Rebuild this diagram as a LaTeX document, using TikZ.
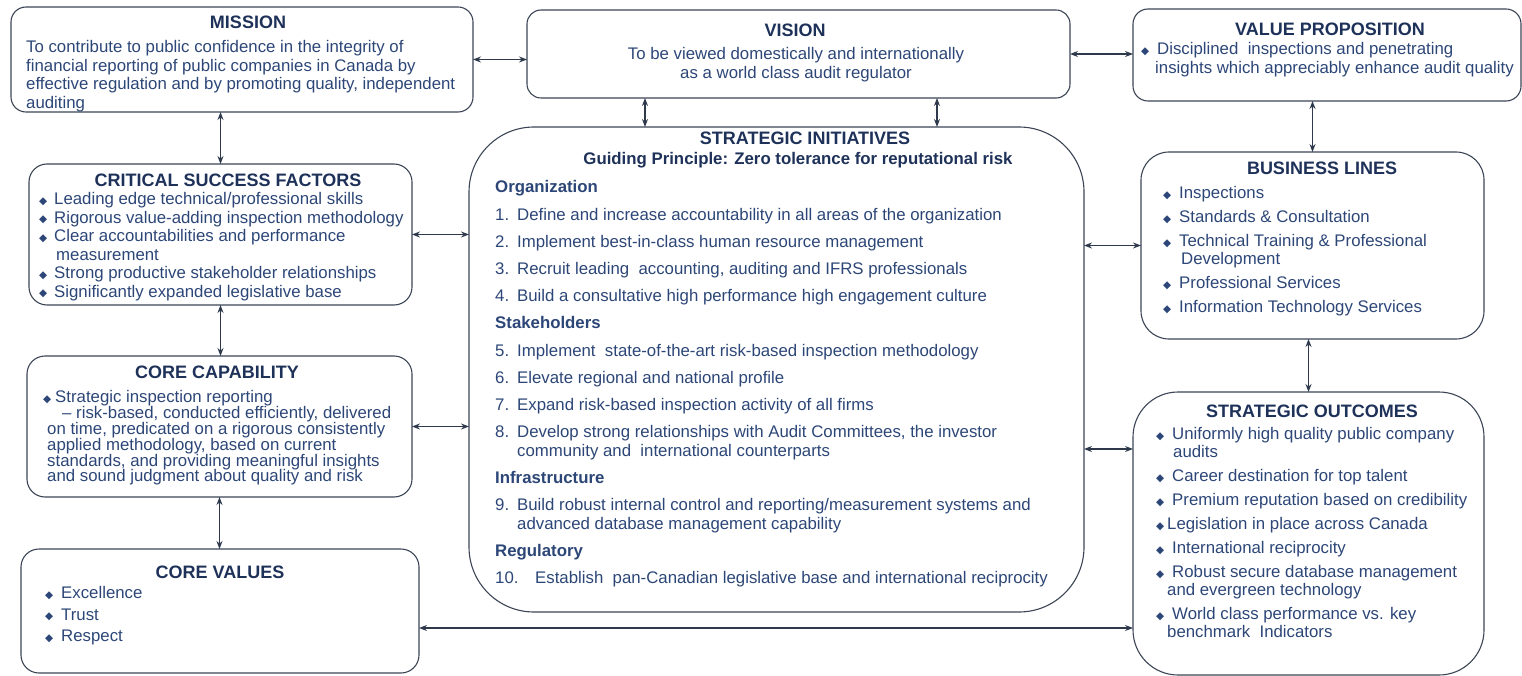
\documentclass[tikz,border=0pt]{standalone}
\usepackage{fontspec}
\setmainfont{Liberation Sans}
\newfontfamily\symfont{DejaVu Sans}
\usetikzlibrary{arrows.meta}

\definecolor{txtcol}{HTML}{2C4677}
\definecolor{headcol}{HTML}{1E3159}
\definecolor{edgecol}{HTML}{3C4556}
\definecolor{linkcol}{HTML}{2E3A4C}

% small diamond bullet and item number boxes
\newcommand{\bul}{\raisebox{0.6pt}{\symfont\fontsize{10.5}{10}\selectfont ◆}}
\newcommand{\bitem}[1][16pt]{\makebox[#1][l]{\bul}}
\newcommand{\num}[2][22pt]{\makebox[#1][l]{#2}}

\begin{document}
\begin{tikzpicture}[x=1pt, y=-1pt,
  panel/.style={draw=edgecol, line width=1.1pt, rounded corners=#1, inner sep=0pt, outer sep=0pt},
  head/.style={font=\fontsize{18}{18}\selectfont\bfseries, text=headcol, anchor=base, inner sep=0pt},
  txt/.style={font=\fontsize{16.8}{18.5}\selectfont, text=txtcol, align=left, anchor=north west, inner sep=0pt},
  link/.style={{Stealth[length=8pt,width=6pt]}-{Stealth[length=8pt,width=6pt]}, line width=1.1pt, draw=linkcol}]

\useasboundingbox (0,0) rectangle (1522,676);

% boxes
\node[panel=15pt, minimum width=462pt, minimum height=105pt] (mission) at (242,59.5) {};
\node[panel=14pt, minimum width=543pt, minimum height=88pt] (vision) at (798.5,54) {};
\node[panel=15pt, minimum width=388pt, minimum height=92pt] (valueprop) at (1327,55) {};
\node[panel=18pt, minimum width=383pt, minimum height=141pt] (csf) at (220.5,234.5) {};
\node[panel=18pt, minimum width=385pt, minimum height=141pt] (corecap) at (219.5,426.5) {};
\node[panel=18pt, minimum width=398pt, minimum height=124pt] (corevals) at (220,611) {};
\node[panel=65pt, minimum width=615pt, minimum height=485pt] (initiatives) at (776.5,369.5) {};
\node[panel=28pt, minimum width=343pt, minimum height=187pt] (buslines) at (1312.5,245.5) {};
\node[panel=45pt, minimum width=351pt, minimum height=283pt] (outcomes) at (1308.5,533.5) {};

% headings
\node[head] (missionhd) at (248,28.4) {MISSION};
\node[head] (visionhd) at (795,36.4) {VISION};
\node[head] (valuehd) at (1330,35.4) {VALUE PROPOSITION};
\node[head] (csfhd) at (228,186.4) {CRITICAL SUCCESS FACTORS};
\node[head] (initshd) at (805,144.4) {STRATEGIC INITIATIVES};
\node[head, font=\fontsize{16.8}{18}\selectfont\bfseries] (guidehd) at (798,164.5)
  {Guiding Principle: Zero tolerance for reputational risk};
\node[head] (bushd) at (1322,174.4) {BUSINESS LINES};
\node[head] (caphd) at (217,378.4) {CORE CAPABILITY};
\node[head] (outhd) at (1312,417.4) {STRATEGIC OUTCOMES};
\node[head] (valshd) at (220,578.5) {CORE VALUES};

% texts
\node[txt] (missiontxt) at (26,40.5) {%
  To contribute to public confidence in the integrity of\\
  financial reporting of public companies in Canada by\\
  effective regulation and by promoting quality, independent\\
  auditing};

\node[txt, align=center, anchor=north, font=\fontsize{16.8}{19}\selectfont] (visiontxt) at (796,47.5) {%
  To be viewed domestically and internationally\\
  as a world class audit regulator};

\node[txt, font=\fontsize{16.8}{19}\selectfont] (valuetxt) at (1141,42.5) {%
  \bitem Disciplined\ \ inspections and penetrating\\
  \hspace*{14pt}insights which appreciably enhance audit quality};

\node[txt] (csftxt) at (39,192.5) {%
  \bitem[15pt]Leading edge technical/professional skills\\
  \bitem[15pt]Rigorous value-adding inspection methodology\\
  \bitem[15pt]Clear accountabilities and performance\\
  \hspace*{17pt}measurement\\
  \bitem[15pt]Strong productive stakeholder relationships\\
  \bitem[15pt]Significantly expanded legislative base};

\node[txt, font=\fontsize{16.8}{15.8}\selectfont] (captxt) at (43,390.5) {%
  \bitem[12pt]Strategic inspection reporting\\
  \hspace*{19pt}-- risk-based, conducted efficiently, delivered\\
  \hspace*{4pt}on time, predicated on a rigorous consistently\\
  \hspace*{4pt}applied methodology, based on current\\
  \hspace*{4pt}standards, and providing meaningful insights\\
  \hspace*{4pt}and sound judgment about quality and risk};

\node[txt, font=\fontsize{16.8}{21.5}\selectfont] (valstxt) at (45,586.5) {%
  \bitem Excellence\\
  \bitem Trust\\
  \bitem Respect};

\node[txt] (initstxt) at (495,180.5) {%
  \textbf{Organization}\\[8.7pt]
  \num{1.}Define and increase accountability in all areas of the organization\\[8.7pt]
  \num{2.}Implement best-in-class human resource management\\[8.7pt]
  \num{3.}Recruit leading\ \ accounting, auditing and IFRS professionals\\[8.7pt]
  \num{4.}Build a consultative high performance high engagement culture\\[8.7pt]
  \textbf{Stakeholders}\\[8.7pt]
  \num{5.}Implement\ \ state-of-the-art risk-based inspection methodology\\[8.7pt]
  \num{6.}Elevate regional and national profile\\[8.7pt]
  \num{7.}Expand risk-based inspection activity of all firms\\[8.7pt]
  \num{8.}Develop strong relationships with Audit Committees, the investor\\
  \hspace*{22pt}community and\ \ international counterparts\\[8.7pt]
  \textbf{Infrastructure}\\[8.7pt]
  \num{9.}Build robust internal control and reporting/measurement systems and\\
  \hspace*{22pt}advanced database management capability\\[8.7pt]
  \textbf{Regulatory}\\[8.7pt]
  \num[40pt]{10.}Establish\ \ pan-Canadian legislative base and international reciprocity};

\node[txt, font=\fontsize{16.8}{18}\selectfont] (bustxt) at (1163,186.5) {%
  \bitem Inspections\\[6pt]
  \bitem Standards \& Consultation\\[6pt]
  \bitem Technical Training \& Professional\\
  \hspace*{18pt}Development\\[6pt]
  \bitem Professional Services\\[6pt]
  \bitem Information Technology Services};

\node[txt, font=\fontsize{16.8}{18}\selectfont] (outtxt) at (1156,427.5) {%
  \bitem Uniformly high quality public company\\
  \hspace*{17pt}audits\\[6pt]
  \bitem Career destination for top talent\\[6pt]
  \bitem Premium reputation based on credibility\\[6pt]
  \bitem[11pt]Legislation in place across Canada\\[6pt]
  \bitem International reciprocity\\[6pt]
  \bitem Robust secure database management\\
  \hspace*{11pt}and evergreen technology\\[6pt]
  \bitem World class performance vs. key\\
  \hspace*{11pt}benchmark\ \ Indicators};

% connectors
\draw[link] (mission.east) -- (mission.east -| vision.west);
\draw[link] (vision.east) -- (vision.east -| valueprop.west);
\draw[link] ([xshift=118pt]vision.south west) -- ([xshift=118pt]vision.south west |- initiatives.north);
\draw[link] ([xshift=410pt]vision.south west) -- ([xshift=410pt]vision.south west |- initiatives.north);
\draw[link] (csf.north) -- (csf.north |- mission.south);
\draw[link] (csf.south) -- (csf.south |- corecap.north);
\draw[link] (corecap.south) -- (corecap.south |- corevals.north);
\draw[link] (csf.east) -- (csf.east -| initiatives.west);
\draw[link] (corecap.east) -- (corecap.east -| initiatives.west);
\draw[link] ([yshift=-17pt]corevals.east) -- ([yshift=-17pt]corevals.east -| outcomes.west);
\draw[link] (buslines.north) -- (buslines.north |- valueprop.south);
\draw[link] (outcomes.north) -- (outcomes.north |- buslines.south);
\draw[link] (buslines.west) -- (buslines.west -| initiatives.east);
\draw[link] ([yshift=84.5pt]outcomes.west) -- ([yshift=84.5pt]outcomes.west -| initiatives.east);

\end{tikzpicture}
\end{document}
